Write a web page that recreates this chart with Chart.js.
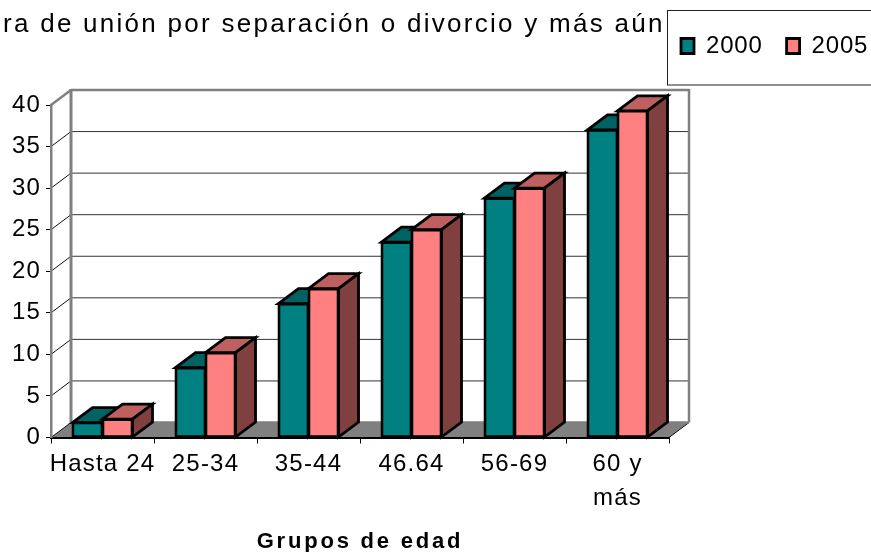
<!DOCTYPE html>
<html lang="es">
<head>
<meta charset="utf-8">
<style>html,body{margin:0;padding:0;background:#fff}canvas{display:block}</style>
<script src="https://cdn.jsdelivr.net/npm/chart.js@4/dist/chart.umd.min.js"></script>
</head>
<body>
<canvas id="c" width="871" height="552"></canvas>
<script>
const categories = ["Hasta 24", "25-34", "35-44", "46.64", "56-69", ["60 y", "más"]];
const seriesNames = ["2000", "2005"];
const values2000 = [1.8, 8.4, 16.1, 23.5, 28.8, 37.0];
const values2005 = [2.2, 10.2, 17.9, 25.0, 30.0, 39.3];
const titleText = "ra de unión por separación o divorcio y más aún";
const xAxisTitle = "Grupos de edad";

const DX = 20, DY = 15;
const FONT = "'Liberation Sans', Arial, sans-serif";
const faces = [
  {top: "#006262", side: "#004c4c"},
  {top: "#bf6060", side: "#804040"}
];

function poly(ctx, pts, fill, stroke, lw) {
  ctx.beginPath();
  pts.forEach((p, i) => i ? ctx.lineTo(p[0], p[1]) : ctx.moveTo(p[0], p[1]));
  ctx.closePath();
  if (fill) { ctx.fillStyle = fill; ctx.fill(); }
  if (stroke) { ctx.strokeStyle = stroke; ctx.lineWidth = lw; ctx.lineJoin = "miter"; ctx.stroke(); }
}
function line(ctx, x1, y1, x2, y2, color, lw) {
  ctx.beginPath(); ctx.moveTo(x1, y1); ctx.lineTo(x2, y2);
  ctx.strokeStyle = color; ctx.lineWidth = lw; ctx.stroke();
}
function withSpacing(chart, obj, method, spacing) {
  const d = obj[method];
  obj[method] = function () {
    const c = chart.ctx, prev = c.letterSpacing;
    c.letterSpacing = spacing; d.apply(this, arguments); c.letterSpacing = prev;
  };
}

const scene3d = {
  id: "scene3d",
  beforeUpdate(chart) { chart.ctx.letterSpacing = "1.2px"; },
  afterLayout(chart) {
    const t = chart.titleBlock, l = chart.legend, xs = chart.scales.x;
    t.left = 3; t.right = 700; t.top = 12; t.bottom = 38;
    if (!t.__wrapped) {
      withSpacing(chart, t, "draw", "2.27px");
      withSpacing(chart, xs, "drawTitle", "2.8px");
      withSpacing(chart, l, "draw", "0.8px");
      t.__wrapped = true;
    }
    l.left = 657; l.right = 1000; l.top = 10; l.bottom = 85;
    l.adjustHitBoxes();
  },
  beforeDraw(chart) {
    const ctx = chart.ctx, a = chart.chartArea, ys = chart.scales.y;
    ctx.letterSpacing = "1.2px";
    ctx.save();
    poly(ctx, [[a.left, a.bottom], [a.right, a.bottom], [a.right + DX, a.bottom - DY], [a.left + DX, a.bottom - DY]], "#808080");
    ys.ticks.forEach(t => {
      const y = ys.getPixelForValue(t.value);
      if (t.value > 0 && t.value < ys.max) {
        line(ctx, a.left + DX, y - DY, a.right + DX, y - DY, "#333", 1);
      }
      if (t.value < ys.max) line(ctx, a.left, y, a.left + DX, y - DY, "#111", 1);
    });
    line(ctx, a.right, a.bottom, a.right + DX, a.bottom - DY, "#111", 1);
    const topY = ys.getPixelForValue(ys.max);
    line(ctx, a.left, topY, a.left + DX, topY - DY, "#808080", 2.5);
    line(ctx, a.left + DX, topY - DY, a.right + DX, topY - DY, "#808080", 2.5);
    line(ctx, a.left + DX, topY - DY - 1, a.left + DX, a.bottom - DY, "#808080", 3);
    line(ctx, a.right + DX, topY - DY - 1, a.right + DX, a.bottom - DY, "#808080", 2.5);
    line(ctx, a.left + DX, a.bottom - DY, a.right + DX, a.bottom - DY, "#808080", 2.5);
    ctx.restore();
  },
  beforeDatasetsDraw(chart) {
    const ctx = chart.ctx;
    ctx.save();
    const m0 = chart.getDatasetMeta(0).data, m1 = chart.getDatasetMeta(1).data;
    m0.forEach((_, i) => {
      [m0[i], m1[i]].forEach((el, k) => {
        const p = el.getProps(["x", "y", "base", "width"], true);
        const L = p.x - p.width / 2, R = p.x + p.width / 2;
        poly(ctx, [[L, p.y], [R, p.y], [R + DX, p.y - DY], [L + DX, p.y - DY]], faces[k].top, "#000", 2.8);
        poly(ctx, [[R, p.y], [R + DX, p.y - DY], [R + DX, p.base - DY], [R, p.base]], faces[k].side, "#000", 2.8);
      });
    });
    ctx.restore();
  },
  afterDraw(chart) {
    const ctx = chart.ctx;
    ctx.save();
    ctx.strokeStyle = "#222"; ctx.lineWidth = 1;
    ctx.strokeRect(667.5, 10.5, 300, 74.5);
    ctx.restore();
  }
};

new Chart(document.getElementById("c"), {
  type: "bar",
  data: {
    labels: categories,
    datasets: [
      {label: seriesNames[0], data: values2000, backgroundColor: "#008080", borderColor: "#000", borderWidth: 2.8, borderSkipped: false, inflateAmount: 1},
      {label: seriesNames[1], data: values2005, backgroundColor: "#ff8080", borderColor: "#000", borderWidth: 2.8, borderSkipped: false, inflateAmount: 1}
    ]
  },
  options: {
    responsive: false,
    animation: false,
    events: [],
    layout: {padding: {left: 0, right: 202, top: 21, bottom: 0}},
    datasets: {bar: {barPercentage: 1, categoryPercentage: 0.583}},
    plugins: {
      tooltip: {enabled: false},
      title: {
        display: true, text: titleText, align: "start", color: "#000",
        padding: 0, font: {family: FONT, size: 26, weight: "normal", lineHeight: 1}
      },
      legend: {
        display: true, position: "top", align: "start",
        labels: {
          boxWidth: 13, boxHeight: 15, padding: 24, color: "#000",
          font: {family: FONT, size: 24, lineHeight: 1}
        }
      }
    },
    scales: {
      x: {
        afterFit(s) { s.height = 114.5; },
        grid: {drawOnChartArea: false, drawTicks: true, tickLength: 6, color: "#000", lineWidth: 1},
        border: {display: true, color: "#000", width: 2},
        ticks: {
          color: "#000", maxRotation: 0, minRotation: 0, autoSkip: false, padding: 3,
          font: {family: FONT, size: 24, lineHeight: 1.45}
        },
        title: {
          display: true, text: xAxisTitle, color: "#000", padding: {top: 0, bottom: -1},
          font: {family: FONT, size: 22, weight: "bold", lineHeight: 1}
        }
      },
      y: {
        min: 0, max: 40,
        afterFit(s) { s.width = 51; },
        grid: {drawOnChartArea: false, drawTicks: true, tickLength: 5, color: "#000", lineWidth: 1},
        border: {display: true, color: "#808080", width: 2.5},
        ticks: {
          stepSize: 5, color: "#000", padding: 5,
          font: {family: FONT, size: 24}
        }
      }
    }
  },
  plugins: [scene3d]
});
</script>
</body>
</html>
